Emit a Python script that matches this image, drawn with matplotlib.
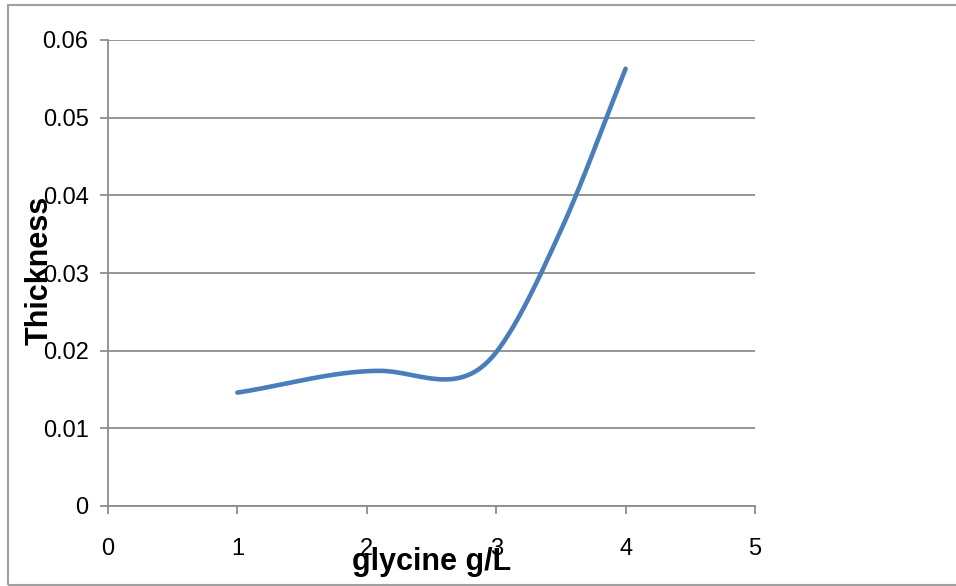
import numpy as np
import matplotlib
matplotlib.use("Agg")
import matplotlib.pyplot as plt
from matplotlib.patches import Rectangle
from matplotlib import font_manager

# valores
glicina = [1, 2.1, 2.6, 3.0, 3.5, 4]
espessura = [0.0146, 0.0174, 0.0163, 0.0198, 0.0355, 0.0563]
xticks = [0, 1, 2, 3, 4, 5]
yticks = [0, 0.01, 0.02, 0.03, 0.04, 0.05, 0.06]

nomes = {f.name for f in font_manager.fontManager.ttflist}
fonte = "Liberation Sans Narrow" if "Liberation Sans Narrow" in nomes else "Liberation Sans"


def suavizar(x, y, n=60):
    # curva suave (hermite com tangentes centradas, zero nos extremos locais)
    x = np.asarray(x, float)
    y = np.asarray(y, float)
    h = np.diff(x)
    d = np.diff(y) / h
    m = np.zeros_like(y)
    m[0], m[-1] = d[0], d[-1]
    for i in range(1, len(x) - 1):
        if d[i - 1] * d[i] > 0:
            m[i] = (y[i + 1] - y[i - 1]) / (x[i + 1] - x[i - 1])
    xs, ys = [], []
    for i in range(len(x) - 1):
        t = np.linspace(0, 1, n)
        if i > 0:
            t = t[1:]
        h00 = 2 * t ** 3 - 3 * t ** 2 + 1
        h10 = t ** 3 - 2 * t ** 2 + t
        h01 = -2 * t ** 3 + 3 * t ** 2
        h11 = t ** 3 - t ** 2
        xs.append(x[i] + t * h[i])
        ys.append(h00 * y[i] + h10 * h[i] * m[i] + h01 * y[i + 1] + h11 * h[i] * m[i + 1])
    return np.concatenate(xs), np.concatenate(ys)


fig = plt.figure(figsize=(9.56, 5.86), dpi=100)
ax = fig.add_axes([108 / 956, 80 / 586, 647 / 956, 466 / 586])

# moldura externa
fig.patches.append(Rectangle((8 / 956, 1 / 586), 1.2, 580 / 586, transform=fig.transFigure,
                             fill=False, edgecolor="#a0a0a0", linewidth=1.5))

xs, ys = suavizar(glicina, espessura)
ax.plot(xs, ys, color="#4a7ebb", linewidth=3.3, solid_capstyle="round", zorder=3)

ax.set_xlim(0, 5)
ax.set_ylim(0, 0.06)
ax.set_xticks(xticks)
ax.set_yticks(yticks)
ax.set_xticklabels([str(v) for v in xticks])
ax.set_yticklabels(["0" if v == 0 else f"{v:.2f}" for v in yticks])
ax.grid(axis="y", color="#8c8c8c", linewidth=1.3)
ax.set_axisbelow(True)
for s in ["top", "right"]:
    ax.spines[s].set_visible(False)
for s in ["left", "bottom"]:
    ax.spines[s].set_color("#8c8c8c")
    ax.spines[s].set_linewidth(1.3)
ax.tick_params(colors="#8c8c8c", length=6, width=1.3, labelcolor="black", labelsize=17, pad=8)
for t in ax.get_xticklabels() + ax.get_yticklabels():
    t.set_family(fonte)
ax.tick_params(axis="x", pad=17)

fig.text(40 / 956, 1 - 270 / 586, "Thickness", rotation=90, ha="center", va="center",
         fontsize=22, fontweight="bold", family=fonte)
fig.text(432 / 956, 1 - 562 / 586, "glycine g/L", ha="center", va="center",
         fontsize=22, fontweight="bold", family=fonte)

fig.savefig("out.png", dpi=100)
